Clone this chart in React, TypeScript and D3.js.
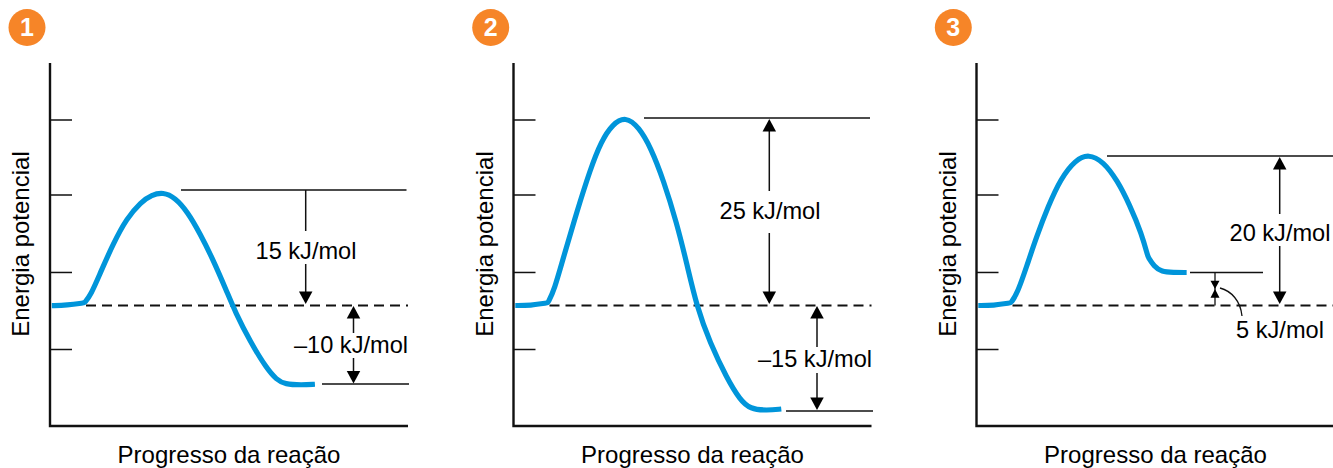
import React from "react";
import * as d3 from "d3";

const WIDTH = 1333;
const HEIGHT = 468;
const FONT = "'Liberation Sans', Arial, sans-serif";
const BLUE = "#0095da";
const INK = "#111";

const panelIds = ["1", "2", "3"];
const axisOffsets = [50, 513.5, 976.5];
const badgeCentres = [27, 490.7, 953.3];
const tickEnergies = [24.73, 14.73, 4.4, -5.87];

const progress1 = [0.5, 4.7, 9.6, 9.6, 11.4, 14, 17.7, 21.4, 25.4, 28.4, 31.6, 34.9, 38.4, 41.9, 45.6, 49.4, 51.7, 55.9, 60.5, 63.3, 65.6, 70.3, 74];
const energy1 = [-0.02, 0.02, 0.35, 0.35, 1.4, 4.29, 8.29, 11.6, 13.8, 14.75, 15.1, 14.4, 12.5, 9.6, 6.07, 1.84, -0.82, -4.8, -8.4, -9.9, -10.5, -10.6, -10.5];
const progress2 = [0.5, 4.7, 9.6, 9.6, 11.4, 14, 17.7, 21.4, 24.5, 27.7, 31.3, 35, 38.4, 41.9, 45.6, 48.4, 51.2, 54.9, 59.6, 63.3, 66.1, 70.8, 74.8];
const energy2 = [0, 0, 0.35, 0.35, 2.07, 6.5, 12.5, 18.1, 21.9, 24.2, 25.2, 23.8, 21, 16.7, 11, 5.6, -0.16, -5, -9.7, -12.6, -13.8, -14, -13.8];
const progress3 = [0.5, 4.7, 9.6, 9.6, 11.4, 14, 16.8, 20, 23.5, 27.6, 31.3, 35.4, 39.3, 42.8, 46.1, 47.9, 47.9, 49.6, 51.7, 54.9, 58.7];
const energy3 = [0, 0, 0.35, 0.35, 1.6, 5.2, 9.2, 13.2, 16.9, 19.4, 20.2, 19.2, 16.7, 13.4, 9.6, 6.5, 6.5, 5.2, 4.5, 4.4, 4.4];

const curveProgress = [progress1, progress2, progress3];
const curveEnergy = [energy1, energy2, energy3];

const topLevels = [15.4, 25, 19.93];
const lowLevels = [-10.47, -14.07, 4.4];
const labelsA = ["15 kJ/mol", "25 kJ/mol", "20 kJ/mol"];
const labelsB = ["–10 kJ/mol", "–15 kJ/mol", "5 kJ/mol"];

const y = d3.scaleLinear().domain([-16.07, 32.33]).range([426, 63]);
const x = d3.scaleLinear().domain([0, 100]).range([0, 358]);
const curve = d3.line<[number, number]>().x((d) => x(d[0])).y((d) => y(d[1])).curve(d3.curveBasis);

function Head({ ax, tip, dir, w = 13.5, l = 12.5 }: { ax: number; tip: number; dir: 1 | -1; w?: number; l?: number }) {
  return <polygon points={`${ax},${tip} ${ax - w / 2},${tip - dir * l} ${ax + w / 2},${tip - dir * l}`} fill="#000" />;
}

function Seg({ x1, x2, y1, y2, w = 1.5 }: { x1: number; x2: number; y1: number; y2: number; w?: number }) {
  return <line x1={x1} x2={x2} y1={y1} y2={y2} stroke={INK} strokeWidth={w} />;
}

function Label({ cx, base, children, size = 23.6 }: { cx: number; base: number; children: string; size?: number }) {
  return (
    <text x={cx} y={base} textAnchor="middle" fontFamily={FONT} fontSize={size} fill="#000">
      {children}
    </text>
  );
}

function Panel1() {
  const t = y(topLevels[0]), l = y(lowLevels[0]), z = y(0);
  return (
    <g>
      <Seg x1={131} x2={356.5} y1={t} y2={t} />
      <Seg x1={272} x2={359} y1={l} y2={l} w={1.6} />
      <Seg x1={255.7} x2={255.7} y1={t} y2={231} />
      <Label cx={256} base={259}>{labelsA[0]}</Label>
      <Seg x1={255.7} x2={255.7} y1={264} y2={z - 12} />
      <Head ax={255.7} tip={z - 1.5} dir={1} />
      <Seg x1={303.5} x2={303.5} y1={z + 12} y2={333} />
      <Head ax={303.5} tip={z + 0.5} dir={-1} />
      <Label cx={301} base={353}>{labelsB[0]}</Label>
      <Seg x1={303.5} x2={303.5} y1={358} y2={l - 10} />
      <Head ax={303.5} tip={l - 0.5} dir={1} />
    </g>
  );
}

function Panel2() {
  const t = y(topLevels[1]), l = y(lowLevels[1]), z = y(0);
  return (
    <g>
      <Seg x1={130.5} x2={356.5} y1={t} y2={t} />
      <Seg x1={272.5} x2={359.5} y1={l} y2={l} />
      <Seg x1={255.8} x2={255.8} y1={t + 10} y2={191} />
      <Head ax={255.8} tip={t + 1} dir={-1} />
      <Label cx={256.5} base={219}>{labelsA[1]}</Label>
      <Seg x1={255.8} x2={255.8} y1={233} y2={z - 12} />
      <Head ax={255.8} tip={z - 1.5} dir={1} />
      <Seg x1={303.5} x2={303.5} y1={z + 12} y2={347} />
      <Head ax={303.5} tip={z + 0.5} dir={-1} />
      <Label cx={301.5} base={367}>{labelsB[1]}</Label>
      <Seg x1={303.5} x2={303.5} y1={373} y2={l - 10} />
      <Head ax={303.5} tip={l - 1} dir={1} />
    </g>
  );
}

function Panel3() {
  const t = y(topLevels[2]), l = y(lowLevels[2]), z = y(0);
  return (
    <g>
      <Seg x1={130.5} x2={356.5} y1={t} y2={t} />
      <Seg x1={213.5} x2={286.5} y1={l} y2={l} />
      <Seg x1={303.2} x2={303.2} y1={t + 10} y2={214} />
      <Head ax={303.2} tip={t + 1} dir={-1} />
      <Label cx={303.5} base={241}>{labelsA[2]}</Label>
      <Seg x1={303.2} x2={303.2} y1={246} y2={z - 12} />
      <Head ax={303.2} tip={z - 1.5} dir={1} />
      <Seg x1={238.5} x2={238.5} y1={l} y2={z} w={1.3} />
      <Head ax={238.5} tip={289} dir={1} w={9} l={8.3} />
      <Head ax={238.5} tip={289} dir={-1} w={9} l={8.7} />
      <path d="M243.5,288 C255,291 264,301 265.5,316" fill="none" stroke={INK} strokeWidth={1.3} />
      <Label cx={303.5} base={338}>{labelsB[2]}</Label>
    </g>
  );
}

const annotations = [Panel1, Panel2, Panel3];

export default function App() {
  return (
    <svg width={WIDTH} height={HEIGHT} viewBox={`0 0 ${WIDTH} ${HEIGHT}`} style={{ position: "absolute", left: 0, top: 0, background: "#fff" }}>
      {panelIds.map((id, i) => {
        const Notes = annotations[i];
        const pts = curveProgress[i].map((p, k) => [p, curveEnergy[i][k]] as [number, number]);
        return (
          <g key={id}>
            <circle cx={badgeCentres[i]} cy={27.5} r={18.5} fill="#f68528" />
            <text x={badgeCentres[i]} y={36} textAnchor="middle" fontFamily={FONT} fontWeight="bold" fontSize={25} fill="#fff">{id}</text>
            <g transform={`translate(${axisOffsets[i]},0)`}>
              <path d={`M0,${y.range()[1]}V${y.range()[0]}H${x(100)}`} fill="none" stroke={INK} strokeWidth={2.4} />
              {tickEnergies.map((e) => (
                <line key={e} x1={0} x2={22} y1={y(e)} y2={y(e)} stroke={INK} strokeWidth={1.5} />
              ))}
              <line x1={36} x2={x(100)} y1={y(0)} y2={y(0)} stroke={INK} strokeWidth={1.9} strokeDasharray="10 6" />
              <path d={curve(pts) ?? ""} fill="none" stroke={BLUE} strokeWidth={5.2} />
              <text transform={`translate(-21,244) rotate(-90)`} textAnchor="middle" fontFamily={FONT} fontSize={24} fill="#000">Energia potencial</text>
              <text x={179} y={462.5} textAnchor="middle" fontFamily={FONT} fontSize={24} fill="#000">Progresso da reação</text>
            </g>
            <g transform={`translate(${axisOffsets[i]},0)`}>
              <Notes />
            </g>
          </g>
        );
      })}
    </svg>
  );
}
